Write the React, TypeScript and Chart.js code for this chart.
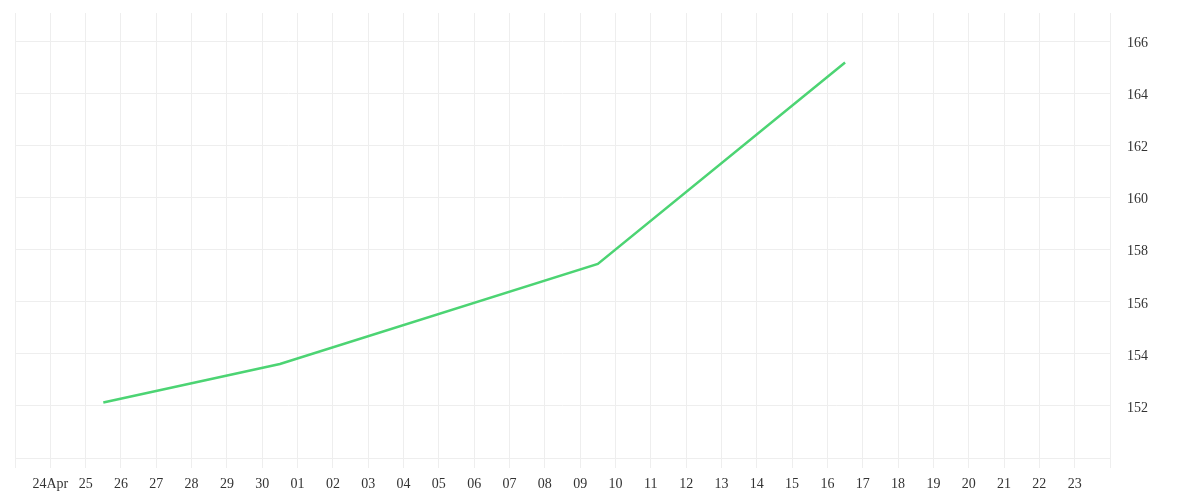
import React, { useEffect, useRef } from "react";
import { Chart, registerables } from "chart.js";

Chart.register(...registerables);

// Axis start (23 Apr) — day 0 of the x scale
const axisStart = "2024-04-23T00:00:00Z";
const axisDays = 31;

// Series
const pointDates = [
  "2024-04-25T12:00:00Z",
  "2024-04-30T12:00:00Z",
  "2024-05-09T12:00:00Z",
  "2024-05-16T12:00:00Z",
];
const pointValues = [152.13, 153.61, 157.46, 165.2];

// Tick labels for days 24 Apr .. 23 May
const xTickLabels = [
  "24Apr", "25", "26", "27", "28", "29", "30",
  "01", "02", "03", "04", "05", "06", "07", "08", "09", "10",
  "11", "12", "13", "14", "15", "16", "17", "18", "19", "20",
  "21", "22", "23",
];
const yTicks = [152, 154, 156, 158, 160, 162, 164, 166];
const yMin = 150;
const yMax = 167.1;

const DAY = 86400000;
const toDay = (s: string) => (Date.parse(s) - Date.parse(axisStart)) / DAY;

export default function App() {
  const ref = useRef<HTMLCanvasElement | null>(null);

  useEffect(() => {
    if (!ref.current) return;
    const gridColor = "#eeeeee";
    const font = { family: "'Liberation Serif', serif", size: 14 };
    const chart = new Chart(ref.current, {
      type: "line",
      data: {
        datasets: [
          {
            data: pointDates.map((d, i) => ({ x: toDay(d), y: pointValues[i] })),
            borderColor: "#4cd473",
            borderWidth: 2.5,
            pointRadius: 0,
            tension: 0,
            fill: false,
          },
        ],
      },
      options: {
        animation: false,
        responsive: true,
        maintainAspectRatio: false,
        layout: { padding: { left: 7, top: 5, right: 44, bottom: 1 } },
        plugins: { legend: { display: false }, tooltip: { enabled: false } },
        scales: {
          x: {
            type: "linear",
            min: 0,
            max: axisDays,
            afterBuildTicks: (scale: any) => {
              const t = [];
              for (let i = 0; i <= axisDays; i++) t.push({ value: i });
              scale.ticks = t;
            },
            afterFit: (scale: any) => {
              scale.height = 33;
              scale.paddingLeft = 0;
              scale.paddingRight = 0;
            },
            grid: { color: gridColor, tickLength: 10, drawTicks: true },
            border: { display: true, color: gridColor },
            ticks: {
              autoSkip: false,
              maxRotation: 0,
              padding: 8,
              color: "#333333",
              font,
              callback: (v: any) => {
                const i = Math.round(Number(v)) - 1;
                return i >= 0 && i < xTickLabels.length ? xTickLabels[i] : "";
              },
            },
          },
          y: {
            position: "right",
            min: yMin,
            max: yMax,
            afterBuildTicks: (scale: any) => {
              scale.ticks = yTicks.map((v) => ({ value: v }));
            },
            afterFit: (scale: any) => {
              scale.width = 38;
              scale.paddingTop = 0;
              scale.paddingBottom = 0;
            },
            grid: { color: gridColor, drawTicks: false },
            border: { display: true, color: gridColor },
            ticks: {
              padding: 17,
              labelOffset: 2,
              color: "#333333",
              font,
              callback: (v: any) => String(v),
            },
          },
        },
      },
    } as any);
    return () => chart.destroy();
  }, []);

  return (
    <div style={{ width: 1184, height: 484, position: "relative" }}>
      <canvas ref={ref} />
    </div>
  );
}
